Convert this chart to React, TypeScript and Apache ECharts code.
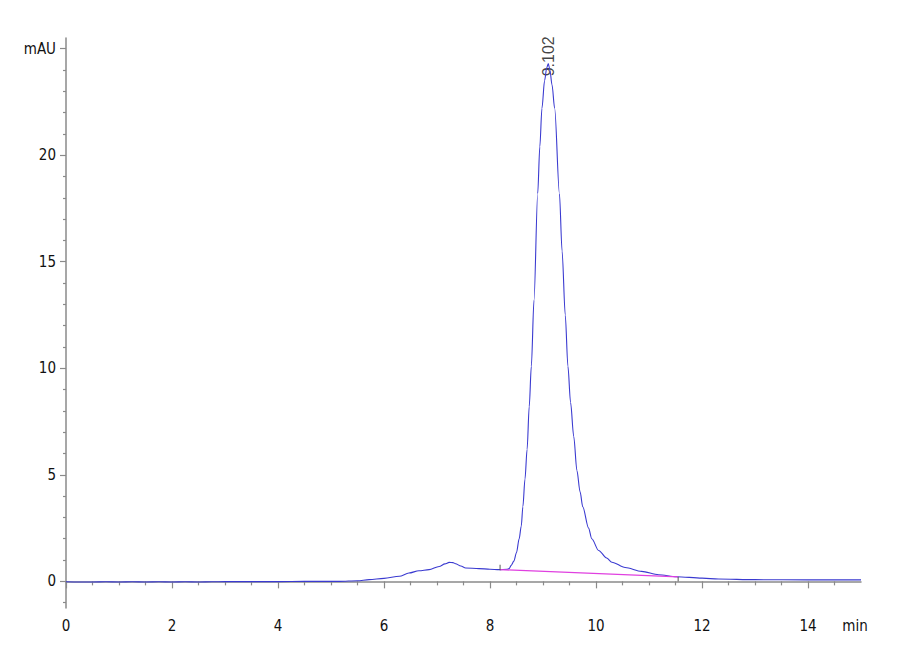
import React, { useEffect, useRef } from "react";
import * as echarts from "echarts";

// Chromatogram trace (time in min, signal in mAU)
const traceTime = [
  0, 0.25, 0.5, 0.75, 1, 1.25, 1.5, 1.75, 2, 2.25, 2.5, 2.75, 3, 3.5, 4, 4.5, 5,
  5.16, 5.5, 5.72, 6.0, 6.29, 6.47, 6.66, 6.85, 7.04, 7.15, 7.23, 7.3, 7.35,
  7.45, 7.54, 7.79, 8.0, 8.17, 8.32, 8.36, 8.4, 8.45, 8.5, 8.55, 8.59, 8.62,
  8.66, 8.7, 8.74, 8.78, 8.83, 8.9, 8.94, 8.98, 9.03, 9.07, 9.1, 9.13, 9.17,
  9.22, 9.31, 9.36, 9.42, 9.47, 9.52, 9.58, 9.64, 9.7, 9.75, 9.86, 9.92, 10.05,
  10.2, 10.3, 10.55, 10.86, 11.18, 11.52, 12.0, 12.31, 13.0, 14.0, 15.0,
];
const traceSignal = [
  -0.02, -0.03, -0.03, -0.02, -0.03, -0.02, -0.03, -0.02, -0.03, -0.02, -0.03,
  -0.02, -0.01, -0.01, -0.01, 0.0, 0.0, 0.0, 0.03, 0.08, 0.14, 0.24, 0.39, 0.5,
  0.55, 0.7, 0.82, 0.89, 0.88, 0.83, 0.72, 0.63, 0.6, 0.57, 0.55, 0.57, 0.6,
  0.75, 0.95, 1.35, 2.0, 2.6, 3.5, 4.8, 6.2, 8.2, 10.1, 13.2, 18.2, 20.4, 22.2,
  23.5, 24.1, 24.3, 24.0, 23.3, 22.2, 18.2, 15.5, 12.5, 10.1, 8.4, 6.8, 5.2,
  4.2, 3.5, 2.5, 2.0, 1.45, 1.1, 0.9, 0.65, 0.47, 0.31, 0.22, 0.15, 0.11, 0.08,
  0.07, 0.07,
];

// Integration baseline (start / end) and peak annotation
const baselineTime = [8.19, 11.55];
const baselineSignal = [0.55, 0.21];
const startMarkTime = [8.19, 8.19];
const startMarkSignal = [0.52, 0.78];
const endMarkTime = [11.55, 11.55];
const endMarkSignal = [0.21, 0.0];
const peakRetention = 9.102;
const peakLabelSignal = 23.7;

// Axis ticks and labels
const xLabelValues = [0, 2, 4, 6, 8, 10, 12, 14, 15];
const xMajorTicks = [0, 2, 4, 6, 8, 10, 12, 14];
const xMinorTicks = [
  0.5, 1, 1.5, 2.5, 3, 3.5, 4.5, 5, 5.5, 6.5, 7, 7.5, 8.5, 9, 9.5, 10.5, 11,
  11.5, 12.5, 13, 13.5, 14.5,
];
const yLabelValues = [0, 5, 10, 15, 20, 25];
const yMinorTicks = [
  -1, 1, 2, 3, 4, 6, 7, 8, 9, 11, 12, 13, 14, 16, 17, 18, 19, 21, 22, 23, 24,
];
const xUnit = "min";
const yUnit = "mAU";

const zip = (a: number[], b: number[]) => a.map((v, i) => [v, b[i]]);

const NARROW = "'Liberation Sans Narrow', 'DejaVu Sans Condensed', sans-serif";
const AXIS_COLOR = "#8a8a8a";

export default function App() {
  const ref = useRef<HTMLDivElement>(null);

  useEffect(() => {
    if (!ref.current) return;
    const chart = echarts.init(ref.current, undefined, { renderer: "svg" });

    const xBase = {
      type: "value",
      min: 0,
      max: 15,
      position: "bottom",
      splitLine: { show: false },
    };
    const yBase = {
      type: "value",
      min: -1.25,
      max: 25.5,
      position: "left",
      splitLine: { show: false },
    };

    chart.setOption({
      animation: false,
      backgroundColor: "#ffffff",
      grid: { left: 66, right: 39, top: 38, bottom: 52, containLabel: false },
      xAxis: [
        {
          ...xBase,
          axisLine: { show: true, lineStyle: { color: AXIS_COLOR, width: 1.5 } },
          axisTick: {
            show: true,
            customValues: xMajorTicks,
            length: 7,
            lineStyle: { color: AXIS_COLOR, width: 1.2 },
          },
          axisLabel: {
            customValues: xLabelValues,
            margin: 10,
            color: "#111",
            fontSize: 15,
            fontFamily: NARROW,
            formatter: (v: number) =>
              v === 15 ? `{u|${xUnit}}` : String(v),
            rich: {
              u: {
                fontSize: 15,
                fontFamily: NARROW,
                color: "#111",
                padding: [0, 12, 0, 0],
              },
            },
          },
        },
        {
          ...xBase,
          axisLine: { show: false },
          axisTick: {
            show: true,
            customValues: xMinorTicks,
            length: 4,
            lineStyle: { color: AXIS_COLOR, width: 1.2 },
          },
          axisLabel: { show: false },
        },
      ],
      yAxis: [
        {
          ...yBase,
          axisLine: { show: true, lineStyle: { color: AXIS_COLOR, width: 1.5 } },
          axisTick: {
            show: true,
            customValues: yLabelValues,
            length: 6,
            lineStyle: { color: AXIS_COLOR, width: 1.2 },
          },
          axisLabel: {
            customValues: yLabelValues,
            margin: 10,
            color: "#111",
            fontSize: 15,
            fontFamily: NARROW,
            formatter: (v: number) => (v === 25 ? yUnit : String(v)),
          },
        },
        {
          ...yBase,
          axisLine: { show: false },
          axisTick: {
            show: true,
            customValues: yMinorTicks,
            length: 3,
            lineStyle: { color: AXIS_COLOR, width: 1.2 },
          },
          axisLabel: { show: false },
        },
      ],
      series: [
        {
          type: "line",
          xAxisIndex: 0,
          yAxisIndex: 0,
          data: zip(traceTime, traceSignal),
          showSymbol: false,
          symbol: "none",
          smooth: 0.3,
          smoothMonotone: "x",
          lineStyle: { color: "#3a3ad0", width: 1.1 },
          silent: true,
        },
        {
          type: "line",
          data: zip(baselineTime, baselineSignal),
          symbol: "none",
          lineStyle: { color: "#e040e0", width: 1.2 },
          silent: true,
        },
        {
          type: "line",
          data: zip(startMarkTime, startMarkSignal),
          symbol: "none",
          lineStyle: { color: "#555", width: 1 },
          silent: true,
        },
        {
          type: "line",
          data: zip(endMarkTime, endMarkSignal),
          symbol: "none",
          lineStyle: { color: "#555", width: 1 },
          silent: true,
        },
        {
          type: "scatter",
          data: [[peakRetention, peakLabelSignal]],
          symbolSize: 1,
          itemStyle: { color: "rgba(0,0,0,0)" },
          silent: true,
          label: {
            show: true,
            position: "inside",
            rotate: 90,
            align: "left",
            verticalAlign: "middle",
            formatter: () => peakRetention.toFixed(3),
            fontFamily: "'Liberation Sans', Arial, sans-serif",
            fontSize: 16,
            color: "#111",
          },
        },
      ],
    });

    return () => chart.dispose();
  }, []);

  return (
    <div
      ref={ref}
      style={{ position: "fixed", left: 0, top: 0, width: 900, height: 660 }}
    />
  );
}
